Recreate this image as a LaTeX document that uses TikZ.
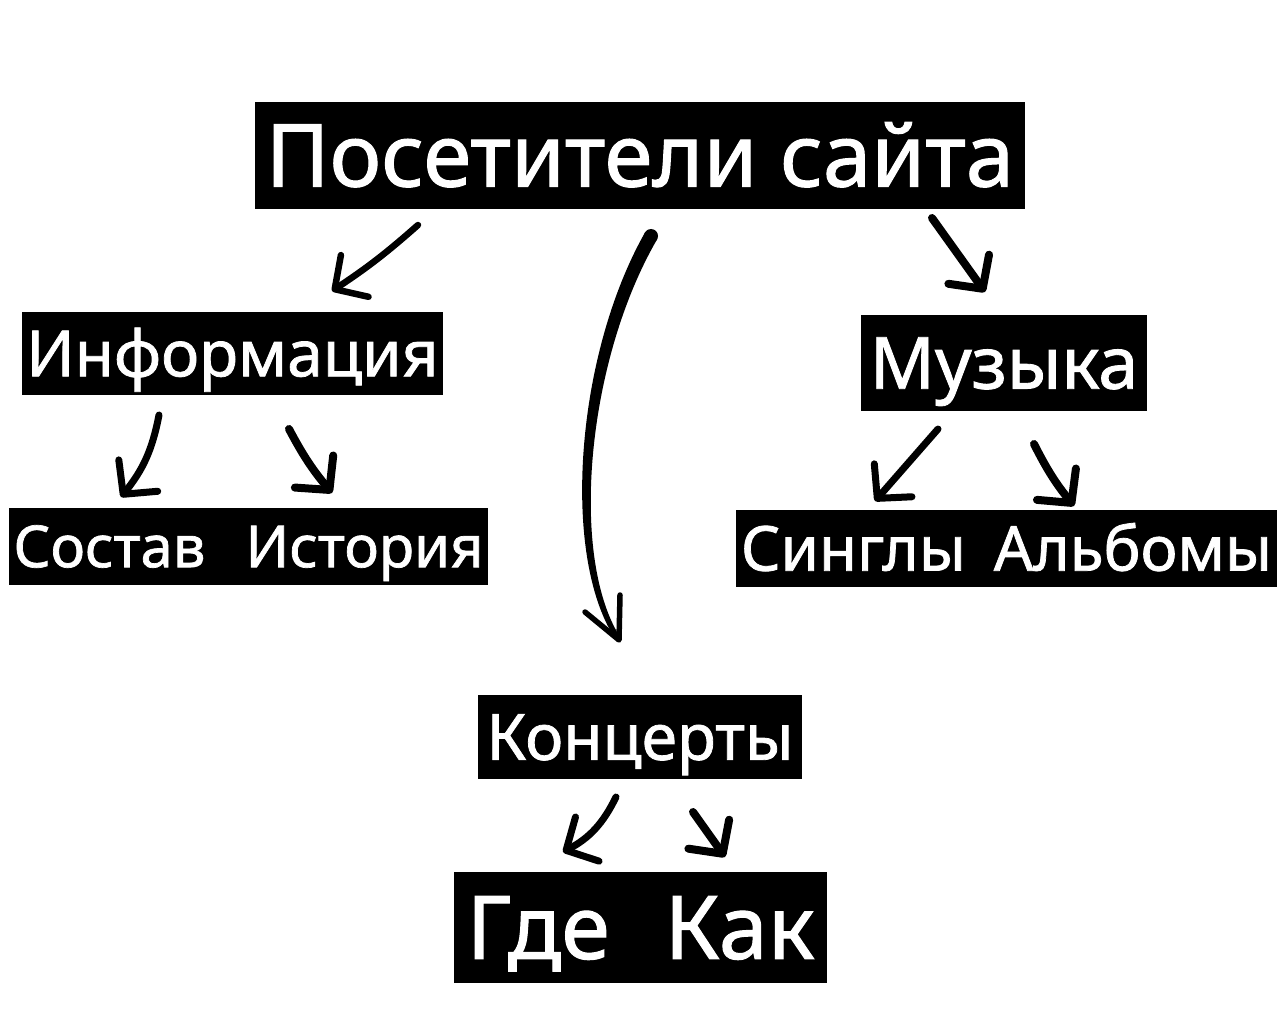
\documentclass[tikz,border=0pt]{standalone}
\usepackage{fontspec}
\setmainfont{Noto Sans}[FakeBold=1.2]
\usetikzlibrary{arrows.meta,calc}
\newcommand{\fsz}[1]{\fontsize{#1}{#1}\selectfont}
\begin{document}
\begin{tikzpicture}[x=1pt,y=-1pt,
  box/.style={fill=black,text=white,inner sep=0pt,align=center,text depth=0pt},
  arr/.style={line width=7pt,line cap=round,line join=round,-{Straight Barb[length=24pt,width=50pt,round]}}]
\useasboundingbox[fill=white] (0,0) rectangle (1280,1027);
% boxes
\node[box,minimum width=770pt,minimum height=107pt,font=\fsz{87},text height=62pt] (top) at (640,155.5) {Посетители сайта};
\node[box,minimum width=421pt,minimum height=83pt,font=\fsz{64},text height=45.7pt] (info) at (232.5,353.5) {Информация};
\node[box,minimum width=479pt,minimum height=77pt,font=\fsz{58},text height=41.4pt] (sost) at (248.5,546.5) {Состав\hspace{40pt}История};
\node[box,minimum width=286pt,minimum height=96pt,font=\fsz{72},text height=51.4pt] (muz) at (1004,363) {Музыка};
\node[box,minimum width=541pt,minimum height=77pt,font=\fsz{62},text height=44.3pt] (sing) at (1006.5,548.5) {Синглы\hspace{28pt}Альбомы};
\node[box,minimum width=324pt,minimum height=84pt,font=\fsz{64},text height=45.7pt] (konc) at (640,737) {Концерты};
\node[box,minimum width=373pt,minimum height=111pt,font=\fsz{88},text height=62.8pt] (gde) at (640.5,927.5) {Где\hspace{55pt}Как};
% connector end points
\coordinate (a1s) at (418,225); \coordinate (a1e) at (332,291);
\coordinate (a3s) at (932,218); \coordinate (a3e) at (985,292);
\coordinate (b1s) at (159,415); \coordinate (b1e) at (121,497);
\coordinate (b2s) at (289,429); \coordinate (b2e) at (332,493);
\coordinate (c1s) at (938,429); \coordinate (c1e) at (875,501);
\coordinate (c2s) at (1034,444); \coordinate (c2e) at (1074,506);
\coordinate (d1s) at (616,797); \coordinate (d1e) at (563,852);
\coordinate (d2s) at (693,812); \coordinate (d2e) at (725,857);
\coordinate (cs) at (651,236); \coordinate (ce) at (619,640);
% short arrows
\draw[arr,line width=6.5pt] (a1s) to[bend left=4] (a1e);
\draw[arr,line width=8pt] (a3s) -- (a3e);
\draw[arr] (b1s) to[bend left=14] (b1e);
\draw[arr,line width=8pt] (b2s) to[bend right=6] (b2e);
\draw[arr] (c1s) -- (c1e);
\draw[arr,line width=8pt] (c2s) to[bend right=6] (c2e);
\draw[arr] (d1s) to[bend left=18] (d1e);
\draw[arr,line width=8pt] (d2s) -- (d2e);
% long tapered curved arrow
\fill ($(cs)+(6,3.5)$) .. controls ($(cs)+(-65,126)$) and ($(ce)+(-50,-81)$) .. ($(ce)+(2,-1.4)$)
  -- ($(ce)+(-2,1.4)$) .. controls ($(ce)+(-58,-79)$) and ($(cs)+(-77,122)$) .. ($(cs)+(-6,-3.5)$) -- cycle;
\fill (cs) circle[radius=7];
\draw[line width=5.5pt,line cap=round,line join=round] ($(ce)+(-34,-28)$) -- (ce) -- ($(ce)+(1,-45)$);
\end{tikzpicture}
\end{document}
